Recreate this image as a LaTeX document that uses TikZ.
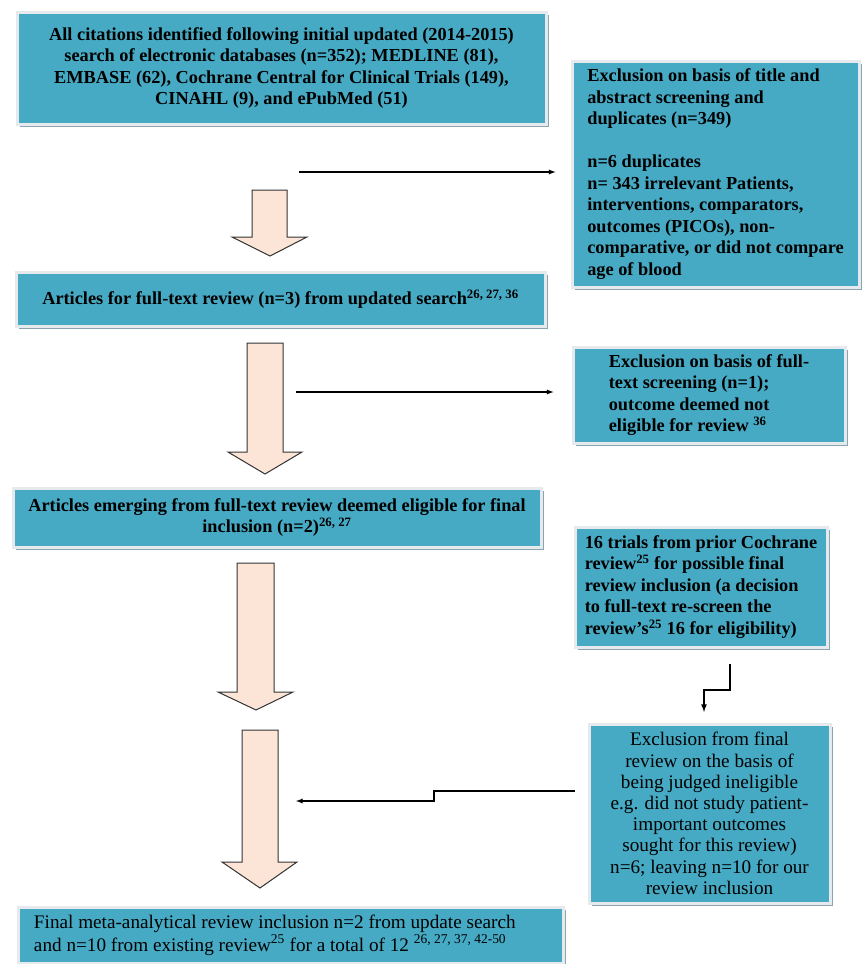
\documentclass[tikz,border=0pt]{standalone}
\usepackage{fontspec}
\setmainfont{Liberation Serif}
\usetikzlibrary{arrows,shadows,positioning}

\definecolor{boxteal}{RGB}{70,170,196}
\definecolor{boxframe}{RGB}{230,234,236}
\definecolor{boxshadow}{RGB}{138,164,176}
\definecolor{arrowfill}{RGB}{252,229,214}

\begin{document}
\begin{tikzpicture}[x=1pt,y=-1pt]
                \tikzstyle{every node}+=[inner sep=0pt]
                \tikzstyle{box}=[rectangle, fill=boxteal, draw=boxframe, line width=3pt,
                  drop shadow={shadow xshift=3pt,shadow yshift=-3pt,fill=boxshadow,opacity=1},
                  font=\bfseries\fontsize{18.3}{21.5}\selectfont, align=center]
                \tikzstyle{boxl}=[box, align=flush left]
                \tikzstyle{boxr}=[box, font=\fontsize{19.2}{21.2}\selectfont]
                \tikzstyle{fatarrow}=[fill=arrowfill, draw=black!80, line width=1pt, line join=miter]
                \tikzstyle{thinarrow}=[-latex, draw=black, line width=1.3pt]
                \useasboundingbox (0,0) rectangle (864,964);
                % boxes, left column
                \node [box, minimum width=529pt, minimum height=112pt] (search) at (281.5,68)
                  {All citations identified following initial updated (2014-2015)\\
                   search of electronic databases (n=352); MEDLINE (81),\\
                   EMBASE (62), Cochrane Central for Clinical Trials (149),\\
                   CINAHL (9), and ePubMed (51)};
                \node [box, minimum width=529pt, minimum height=54pt] (fulltext) at (280.5,299)
                  {Articles for full-text review (n=3) from updated search\textsuperscript{26, 27, 36}};
                \node [box, minimum width=528pt, minimum height=59pt] (eligible) at (277,517.5)
                  {Articles emerging from full-text review deemed eligible for final\\
                   inclusion (n=2)\textsuperscript{26, 27}};
                \node [boxr, align=flush left, text width=513pt, inner xsep=16pt, minimum height=56pt,
                  font=\fontsize{19.2}{23}\selectfont] (final) at (290.5,935)
                  {Final meta-analytical review inclusion n=2 from update search\\
                   and n=10 from existing review\textsuperscript{25} for a total of 12 \textsuperscript{26, 27, 37, 42-50}};
                % boxes, right column
                \node [boxl, minimum width=287pt, minimum height=226pt] (excl1) at (715.5,174)
                  {Exclusion on basis of title and\\
                   abstract screening and\\
                   duplicates (n=349)\\[21.5pt]
                   n=6 duplicates\\
                   n= 343 irrelevant Patients,\\
                   interventions, comparators,\\
                   outcomes (PICOs), non-\\
                   comparative, or did not compare\\
                   age of blood};
                \node [boxl, minimum width=272pt, minimum height=96pt] (excl2) at (709,395)
                  {Exclusion on basis of full-\\
                   text screening (n=1);\\
                   outcome deemed not\\
                   eligible for review \textsuperscript{36}};
                \node [boxl, minimum width=252pt, minimum height=120pt] (prior) at (701,587)
                  {16 trials from prior Cochrane\\
                   review\textsuperscript{25} for possible final\\
                   review inclusion (a decision\\
                   to full-text re-screen the\\
                   review's\textsuperscript{25} 16 for eligibility)};
                \node [boxr, minimum width=241pt, minimum height=179pt] (excl3) at (709.5,813.5)
                  {Exclusion from final\\
                   review on the basis of\\
                   being judged ineligible\\
                   e.g. did not study patient-\\
                   important outcomes\\
                   sought for this review)\\
                   n=6; leaving n=10 for our\\
                   review inclusion};
                % block arrows
                \draw [fatarrow] (252,190) -- (287,190) -- (287,237) -- (307,237) -- (270,256)
                  -- (232,237) -- (252,237) -- cycle;
                \draw [fatarrow] (247,343) -- (283,343) -- (283,452) -- (302,452) -- (265,474)
                  -- (228,452) -- (247,452) -- cycle;
                \draw [fatarrow] (237,563) -- (274,563) -- (274,692) -- (293,692) -- (256,710)
                  -- (218,692) -- (237,692) -- cycle;
                \draw [fatarrow] (242,730) -- (278,730) -- (278,862) -- (297,862) -- (260,888)
                  -- (222,862) -- (242,862) -- cycle;
                % side connectors
                \coordinate (c1) at (299,172);
                \coordinate (c2) at (296,392);
                \coordinate (c3) at (730,664);
                \coordinate (c4) at (704,712);
                \coordinate (c5) at (575,791);
                \coordinate (c6) at (296,801);
                \draw [thinarrow, shorten >=15pt] (c1) -- (c1 -| excl1.west);
                \draw [thinarrow, shorten >=18pt] (c2) -- (c2 -| excl2.west);
                \draw [thinarrow, line width=1.6pt] (c3) -- (730,690) -| (c4);
                \draw [thinarrow] (c5) -- (434,791) -- (434,801) -- (c6);
\end{tikzpicture}
\end{document}
